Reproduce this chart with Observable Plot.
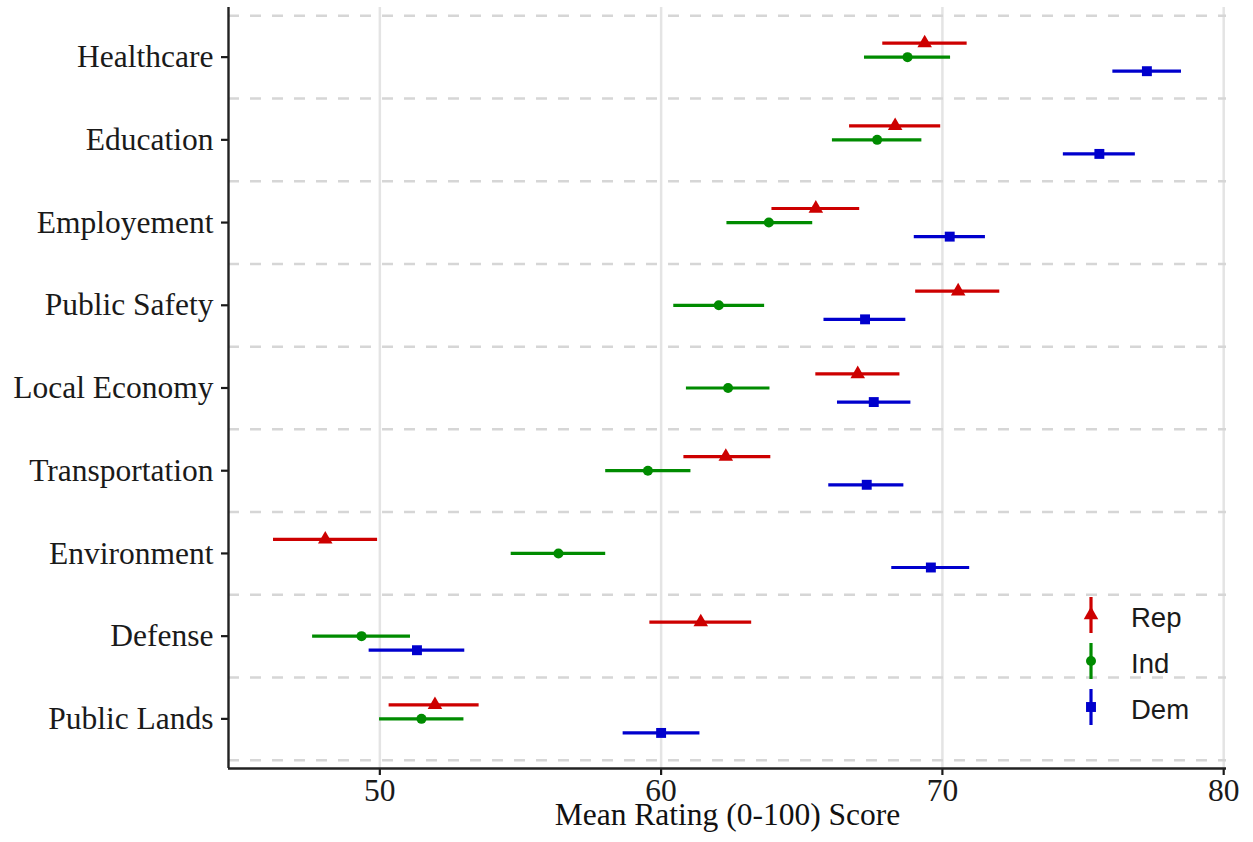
<!DOCTYPE html>
<html>
<head>
<meta charset="utf-8">
<script src="https://cdn.jsdelivr.net/npm/d3@7"></script>
<script src="https://cdn.jsdelivr.net/npm/@observablehq/plot@0.6"></script>
<style>
  html, body { margin: 0; padding: 0; background: #fff; }
  #wrap { position: relative; width: 1253px; height: 842px; }
  #legend { position: absolute; left: 1070px; top: 590px; }
</style>
</head>
<body>
<div id="wrap">
  <div id="chart"></div>
  <div id="legend"></div>
</div>
<script>
// Policy areas, top to bottom
const categories = ["Healthcare", "Education", "Employement", "Public Safety", "Local Economy",
                    "Transportation", "Environment", "Defense", "Public Lands"];
const parties = ["Rep", "Ind", "Dem"];
const partyColors = ["#cd0000", "#008b00", "#0000cd"];
const xTicks = [50, 60, 70, 80];

// Mean rating and interval bounds, one entry per category
const repMean = [69.37, 68.32, 65.50, 70.56, 66.99, 62.30, 48.06, 61.41, 51.96];
const repLo   = [67.88, 66.70, 63.94, 69.05, 65.50, 60.81, 46.22, 59.60, 50.33];
const repHi   = [70.88, 69.94, 67.06, 72.04, 68.49, 63.90, 49.92, 63.22, 53.53];

const indMean = [68.76, 67.68, 63.83, 62.05, 62.38, 59.53, 56.35, 49.35, 51.48];
const indLo   = [67.23, 66.09, 62.34, 60.45, 60.90, 58.03, 54.67, 47.61, 49.99];
const indHi   = [70.29, 69.27, 65.39, 63.68, 63.87, 61.06, 58.03, 51.09, 52.99];

const demMean = [77.27, 75.58, 70.26, 67.25, 67.56, 67.31, 69.59, 51.32, 60.00];
const demLo   = [76.06, 74.30, 69.00, 65.79, 66.27, 65.96, 68.20, 49.62, 58.65];
const demHi   = [78.50, 76.86, 71.53, 68.70, 68.88, 68.63, 70.97, 53.02, 61.38];

const series = {
  Rep: {mean: repMean, lo: repLo, hi: repHi, offset: -0.17, symbol: "triangle", r: 5.4},
  Ind: {mean: indMean, lo: indLo, hi: indHi, offset: 0, symbol: "circle", r: 5.0},
  Dem: {mean: demMean, lo: demLo, hi: demHi, offset: 0.17, symbol: "square", r: 5.6}
};

const rows = parties.flatMap(p => categories.map((c, i) => ({
  party: p,
  category: c,
  y: i + series[p].offset,
  mean: series[p].mean[i],
  lo: series[p].lo[i],
  hi: series[p].hi[i]
})));

const xDomain = [44.62, 80.1];
const yDomain = [-0.6, categories.length - 0.4];
const serif = "'Liberation Serif', 'Times New Roman', serif";
const fs = 31.5;

const chart = Plot.plot({
  width: 1253,
  height: 842,
  marginLeft: 228,
  marginRight: 27,
  marginTop: 7,
  marginBottom: 74,
  style: {fontFamily: serif, fontSize: fs + "px", color: "#1a1a1a", background: "#fff"},
  x: {domain: xDomain},
  y: {domain: yDomain, reverse: true},
  color: {domain: parties, range: partyColors},
  marks: [
    Plot.ruleX(xTicks, {stroke: "#e4e4e4", strokeWidth: 2.5}),
    Plot.ruleY(d3.range(-0.5, categories.length, 1), {stroke: "#d6d6d6", strokeWidth: 2.5, strokeDasharray: "11,11"}),
    Plot.axisX({ticks: xTicks, tickSize: 7, tickPadding: 3, strokeWidth: 2.2, fontSize: fs, label: null}),
    Plot.axisY({ticks: d3.range(categories.length), tickFormat: i => categories[i],
                tickSize: 7, tickPadding: 8, strokeWidth: 2.2, fontSize: fs, label: null}),
    Plot.ruleX([xDomain[0]], {stroke: "#222", strokeWidth: 2.4}),
    Plot.ruleY([yDomain[1]], {stroke: "#222", strokeWidth: 2.4}),
    Plot.ruleY(rows, {y: "y", x1: "lo", x2: "hi", stroke: "party", strokeWidth: 3.2}),
    ...parties.map(p => Plot.dot(rows.filter(d => d.party === p), {
      x: "mean", y: "y", fill: "party", symbol: () => series[p].symbol, r: series[p].r
    })),
    Plot.text(["Mean Rating (0-100) Score"], {frameAnchor: "bottom", dy: 56, fontSize: fs, fill: "#111"})
  ]
});
document.getElementById("chart").appendChild(chart);

// Legend: vertical interval glyph with the party's symbol, plus its name
const lg = d3.select("#legend").append("svg").attr("width", 160).attr("height", 150);
const symbolTypes = {triangle: d3.symbolTriangle, circle: d3.symbolCircle, square: d3.symbolSquare};
parties.forEach((p, i) => {
  const cy = 25 + i * 46;
  const g = lg.append("g").attr("transform", `translate(21,${cy})`);
  g.append("line").attr("y1", -18).attr("y2", 18).attr("stroke", partyColors[i]).attr("stroke-width", 3.2);
  g.append("path")
    .attr("d", d3.symbol(symbolTypes[series[p].symbol], Math.PI * series[p].r ** 2)())
    .attr("fill", partyColors[i]);
  lg.append("text").attr("x", 61).attr("y", cy + 11.5)
    .attr("font-family", "'Liberation Sans', Arial, sans-serif")
    .attr("font-size", 27.5).attr("fill", "#1a1a1a").text(p);
});
</script>
</body>
</html>
